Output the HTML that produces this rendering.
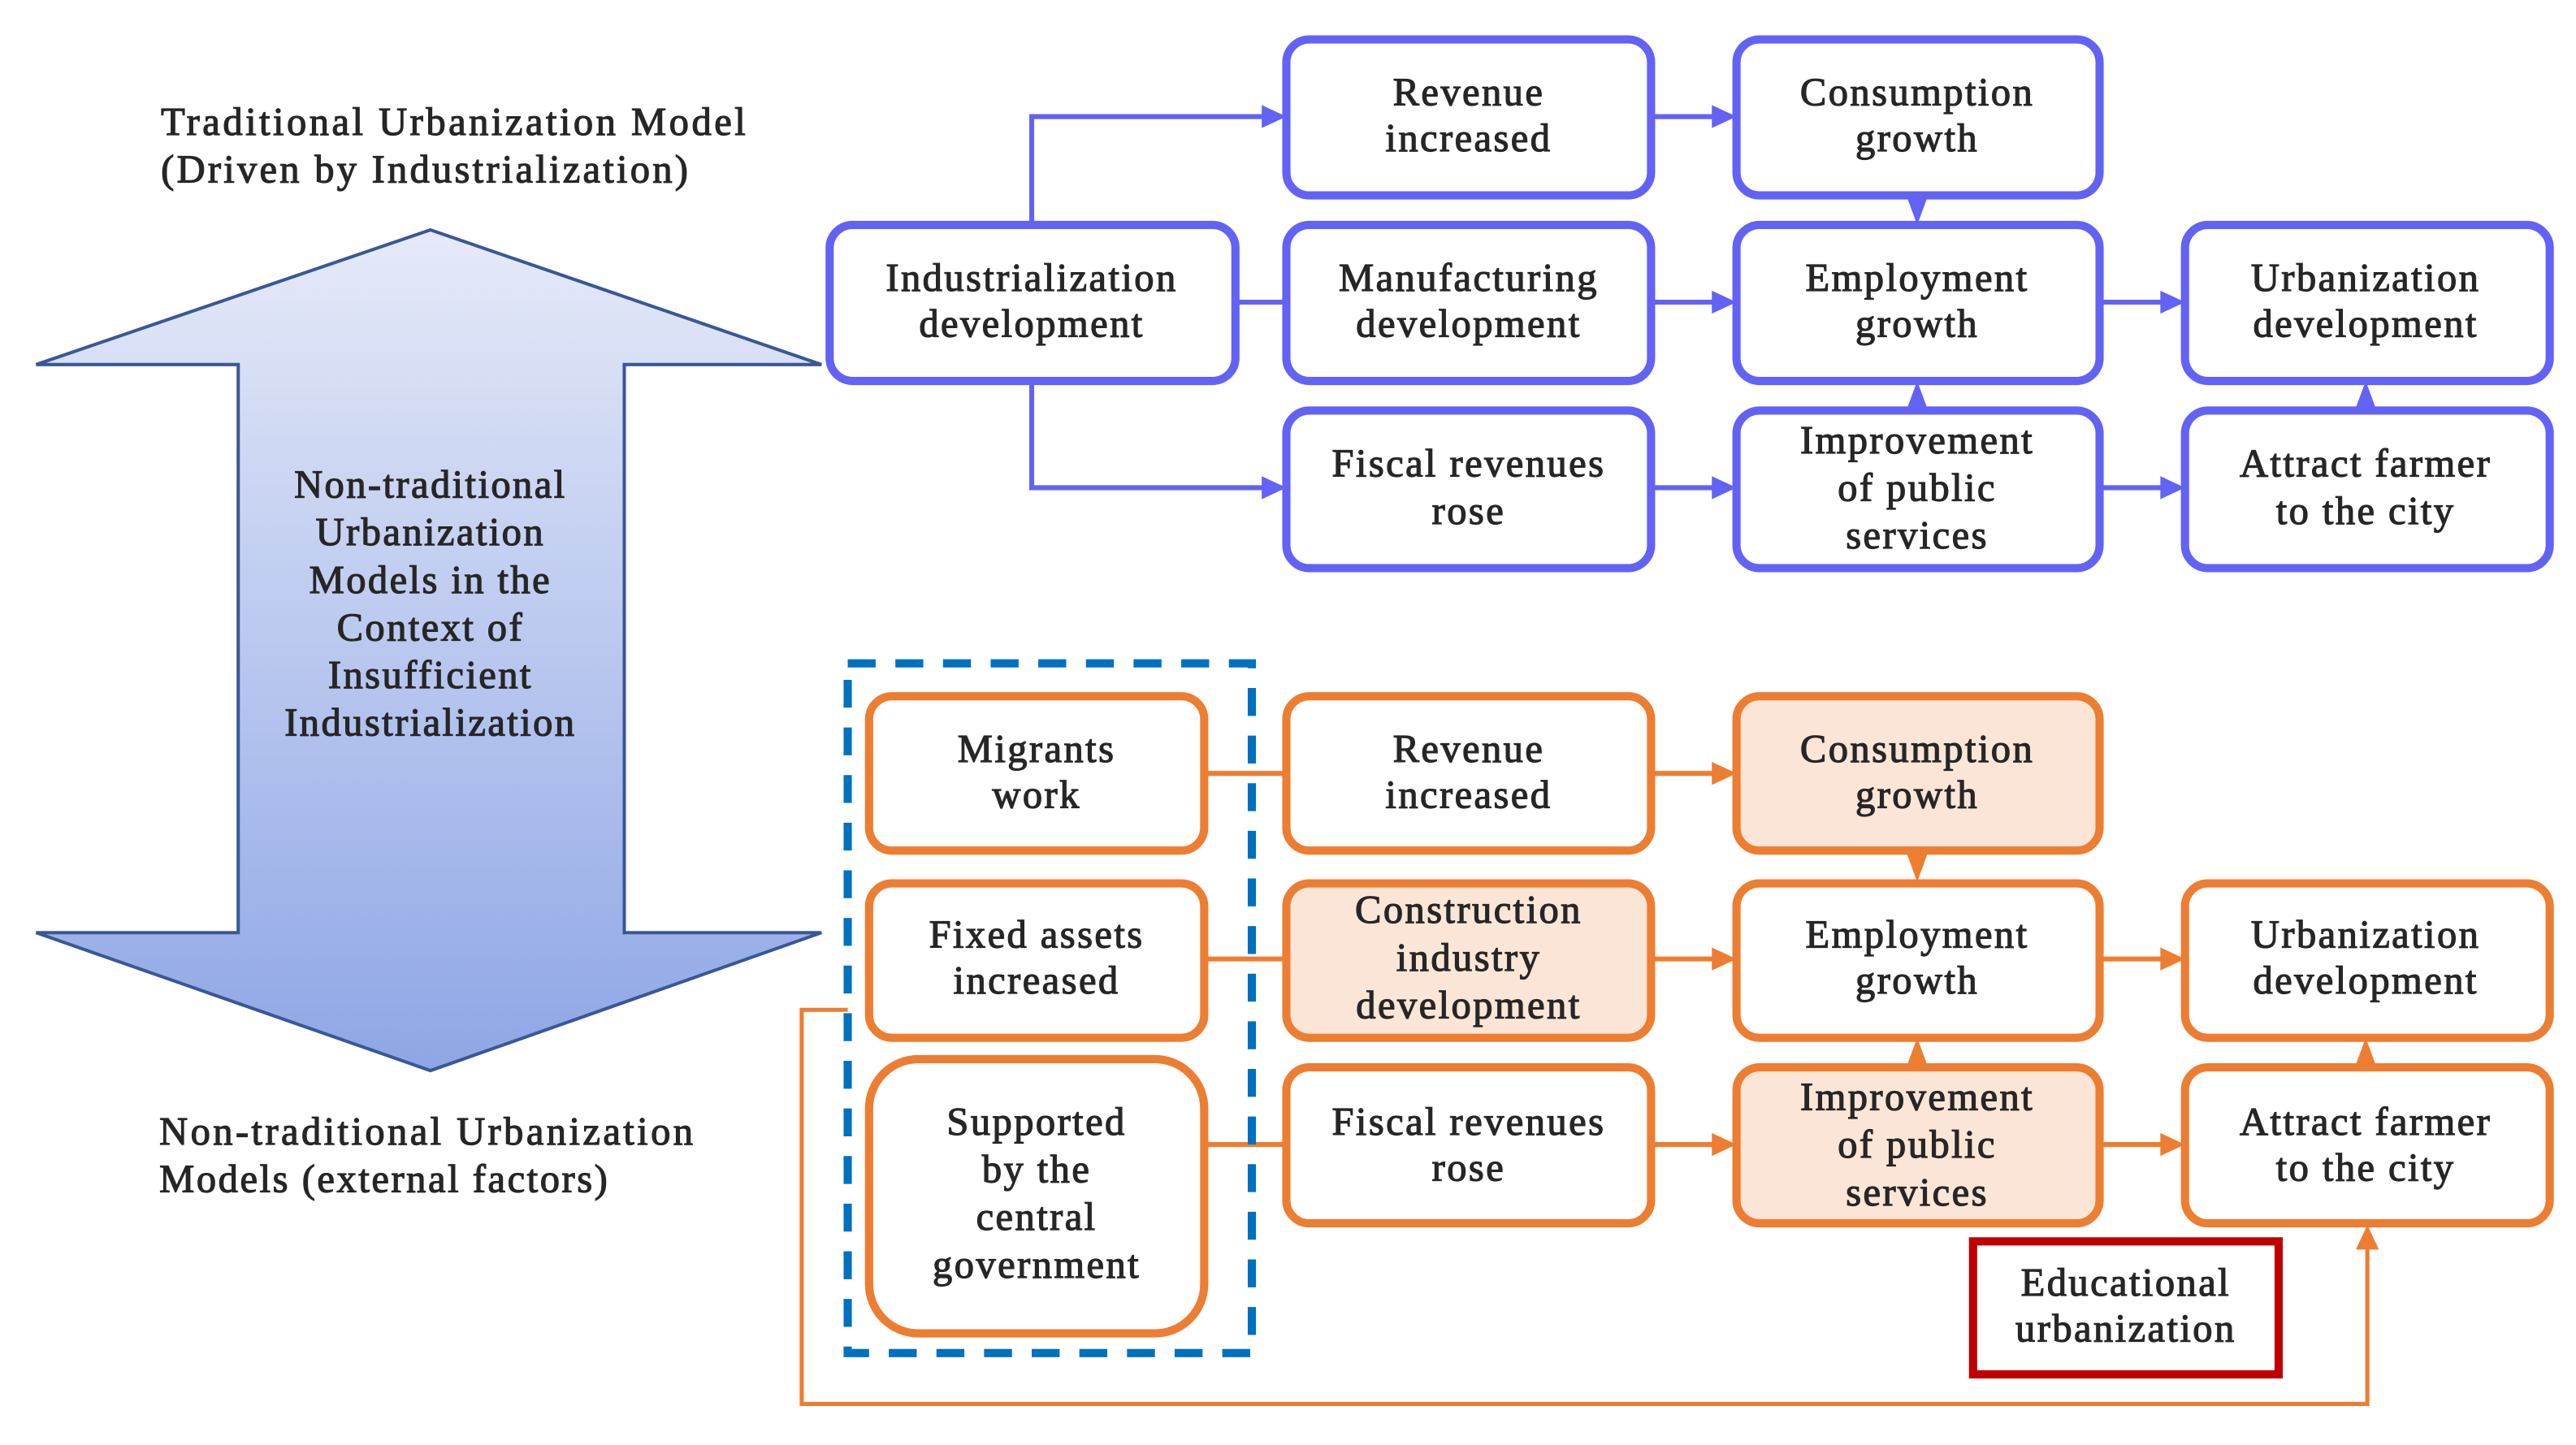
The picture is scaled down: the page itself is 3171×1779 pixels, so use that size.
<!DOCTYPE html>
<html><head><meta charset="utf-8"><style>
html,body{margin:0;padding:0;background:#fff}
svg{display:block}
text{font-family:"Liberation Serif",serif;font-size:24px;letter-spacing:1.2px;fill:#262626;text-anchor:middle;stroke:#262626;stroke-width:0.6}
</style></head><body>
<svg width="3171" height="1779" viewBox="0 0 1568 880" preserveAspectRatio="none" xmlns="http://www.w3.org/2000/svg">
<defs>
<linearGradient id="g" x1="0" y1="0" x2="0" y2="1">
<stop offset="0" stop-color="#e6eaf8"/><stop offset="1" stop-color="#8ea6e6"/>
</linearGradient>
</defs>
<polygon points="262,140 500,222 380,222 380,568 500,568 262,652 22,568 145,568 145,222 22,222" fill="url(#g)" stroke="#3a5796" stroke-width="2"/>
<text x="262" y="303">Non-traditional</text>
<text x="262" y="332">Urbanization</text>
<text x="262" y="361">Models in the</text>
<text x="262" y="390">Context of</text>
<text x="262" y="419">Insufficient</text>
<text x="262" y="448">Industrialization</text>
<text x="98" y="82" style="text-anchor:start" textLength="357">Traditional Urbanization Model</text>
<text x="98" y="111" style="text-anchor:start" textLength="322">(Driven by Industrialization)</text>
<text x="97" y="697" style="text-anchor:start" textLength="326">Non-traditional Urbanization</text>
<text x="97" y="726" style="text-anchor:start" textLength="274">Models (external factors)</text>

<g stroke="#6262f5" stroke-width="3" fill="none">
<polyline points="628,137 628,71 772,71"/>
<polyline points="628,232 628,297 772,297"/>
<line x1="752" y1="184" x2="783" y2="184"/>
<line x1="1005" y1="71" x2="1046" y2="71"/>
<line x1="1005" y1="184" x2="1046" y2="184"/>
<line x1="1005" y1="297" x2="1046" y2="297"/>
<line x1="1278" y1="184" x2="1319" y2="184"/>
<line x1="1278" y1="297" x2="1319" y2="297"/>
</g>
<g fill="#6262f5">
<polygon points="768,64 783,71 768,78"/>
<polygon points="768,290 783,297 768,304"/>
<polygon points="1042,64 1057,71 1042,78"/>
<polygon points="1042,177 1057,184 1042,191"/>
<polygon points="1042,290 1057,297 1042,304"/>
<polygon points="1315,177 1330,184 1315,191"/>
<polygon points="1315,290 1330,297 1315,304"/>
<polygon points="1160,118 1174,118 1167,137"/>
<polygon points="1160,251 1174,251 1167,232"/>
<polygon points="1433,251 1447,251 1440,232"/>
</g>
<g stroke="#6262f5" stroke-width="5" fill="#fff">
<rect x="783" y="24" width="222" height="95" rx="14"/>
<rect x="1057" y="24" width="221" height="95" rx="14"/>
<rect x="505" y="137" width="247" height="95" rx="14"/>
<rect x="783" y="137" width="222" height="95" rx="14"/>
<rect x="1057" y="137" width="221" height="95" rx="14"/>
<rect x="1330" y="137" width="222" height="95" rx="14"/>
<rect x="783" y="250" width="222" height="96" rx="14"/>
<rect x="1057" y="250" width="221" height="96" rx="14"/>
<rect x="1330" y="250" width="222" height="96" rx="14"/>
</g>
<text x="894" y="64">Revenue</text><text x="894" y="92">increased</text>
<text x="1167" y="64">Consumption</text><text x="1167" y="92">growth</text>
<text x="628" y="177">Industrialization</text><text x="628" y="205">development</text>
<text x="894" y="177">Manufacturing</text><text x="894" y="205">development</text>
<text x="1167" y="177">Employment</text><text x="1167" y="205">growth</text>
<text x="1440" y="177">Urbanization</text><text x="1440" y="205">development</text>
<text x="894" y="290">Fiscal revenues</text><text x="894" y="319">rose</text>
<text x="1167" y="276">Improvement</text><text x="1167" y="305">of public</text><text x="1167" y="334">services</text>
<text x="1440" y="290">Attract farmer</text><text x="1440" y="319">to the city</text>

<g stroke="#ed7d31" stroke-width="3" fill="none">
<line x1="733" y1="471" x2="783" y2="471"/>
<line x1="733" y1="584" x2="783" y2="584"/>
<line x1="733" y1="697" x2="783" y2="697"/>
<line x1="1005" y1="471" x2="1046" y2="471"/>
<line x1="1005" y1="584" x2="1046" y2="584"/>
<line x1="1005" y1="697" x2="1046" y2="697"/>
<line x1="1278" y1="584" x2="1319" y2="584"/>
<line x1="1278" y1="697" x2="1319" y2="697"/>
<polyline points="516,615 488,615 488,855 1441,855 1441,758" stroke-width="2.5"/>
</g>
<g fill="#ed7d31">
<polygon points="1042,464 1057,471 1042,478"/>
<polygon points="1042,577 1057,584 1042,591"/>
<polygon points="1042,690 1057,697 1042,704"/>
<polygon points="1315,577 1330,584 1315,591"/>
<polygon points="1315,690 1330,697 1315,704"/>
<polygon points="1160,518 1174,518 1167,537"/>
<polygon points="1160,651 1174,651 1167,632"/>
<polygon points="1433,651 1447,651 1440,632"/>
<polygon points="1434,761 1448,761 1441,746"/>
</g>
<rect x="516" y="404" width="246" height="420" fill="none" stroke="#0070c0" stroke-width="5" stroke-dasharray="17,12"/>
<g stroke="#ed7d31" stroke-width="5" fill="#fff">
<rect x="529" y="424" width="204" height="94" rx="14"/>
<rect x="529" y="538" width="204" height="94" rx="14"/>
<rect x="529" y="645" width="204" height="167" rx="30"/>
<rect x="783" y="424" width="222" height="94" rx="14"/>
<rect x="783" y="538" width="222" height="94" rx="14" fill="#fbe5d6"/>
<rect x="1057" y="424" width="221" height="94" rx="14" fill="#fbe5d6"/>
<rect x="1057" y="538" width="221" height="94" rx="14"/>
<rect x="1330" y="538" width="222" height="94" rx="14"/>
<rect x="783" y="650" width="222" height="95" rx="14"/>
<rect x="1057" y="650" width="221" height="95" rx="14" fill="#fbe5d6"/>
<rect x="1330" y="650" width="222" height="95" rx="14"/>
</g>
<rect x="1201" y="756" width="186" height="81" fill="#fff" stroke="#c00000" stroke-width="5"/>
<text x="631" y="464">Migrants</text><text x="631" y="492">work</text>
<text x="631" y="577">Fixed assets</text><text x="631" y="605">increased</text>
<text x="631" y="691">Supported</text><text x="631" y="720">by the</text><text x="631" y="749">central</text><text x="631" y="778">government</text>
<text x="894" y="464">Revenue</text><text x="894" y="492">increased</text>
<text x="1167" y="464">Consumption</text><text x="1167" y="492">growth</text>
<text x="894" y="562">Construction</text><text x="894" y="591">industry</text><text x="894" y="620">development</text>
<text x="1167" y="577">Employment</text><text x="1167" y="605">growth</text>
<text x="1440" y="577">Urbanization</text><text x="1440" y="605">development</text>
<text x="894" y="691">Fiscal revenues</text><text x="894" y="719">rose</text>
<text x="1167" y="676">Improvement</text><text x="1167" y="705">of public</text><text x="1167" y="734">services</text>
<text x="1440" y="691">Attract farmer</text><text x="1440" y="719">to the city</text>
<text x="1294" y="789">Educational</text><text x="1294" y="817">urbanization</text>
</svg>
</body></html>
